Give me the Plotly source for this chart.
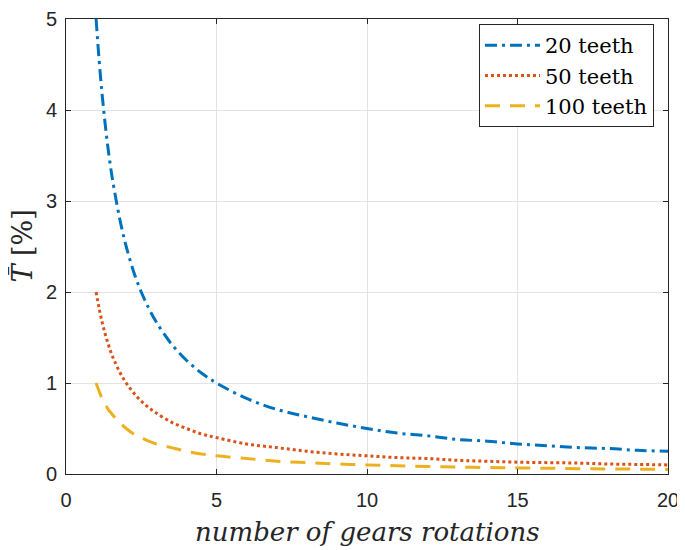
import plotly.graph_objects as go

rotations = [1, 1.1, 1.2, 1.3, 1.4, 1.5, 1.6, 1.8, 2, 2.25, 2.5, 2.75, 3, 3.5, 4, 4.5,
             5, 6, 7, 8, 9, 10, 11, 12, 13, 14, 15, 16, 17, 18, 19, 20]
teeth_20 = [5.0, 4.55, 4.17, 3.85, 3.57, 3.33, 3.13, 2.78, 2.5, 2.22, 2.0, 1.82, 1.67, 1.43, 1.25, 1.11,
            1.0, 0.83, 0.71, 0.63, 0.56, 0.5, 0.45, 0.42, 0.38, 0.36, 0.33, 0.31, 0.29, 0.28, 0.26, 0.25]
teeth_50 = [2.0, 1.82, 1.67, 1.54, 1.43, 1.33, 1.25, 1.11, 1.0, 0.89, 0.8, 0.73, 0.67, 0.57, 0.5, 0.44,
            0.4, 0.33, 0.29, 0.25, 0.22, 0.2, 0.18, 0.17, 0.15, 0.14, 0.13, 0.125, 0.12, 0.11, 0.105, 0.1]
teeth_100 = [1.0, 0.91, 0.83, 0.77, 0.71, 0.67, 0.63, 0.56, 0.5, 0.44, 0.4, 0.36, 0.33, 0.29, 0.25, 0.22,
             0.2, 0.17, 0.14, 0.125, 0.11, 0.1, 0.09, 0.083, 0.077, 0.071, 0.067, 0.063, 0.059, 0.056, 0.053, 0.05]
series_names = ["20 teeth", "50 teeth", "100 teeth"]
x_ticks = [0, 5, 10, 15, 20]
y_ticks = [0, 1, 2, 3, 4, 5]
x_title = "number of gears rotations"
y_title = "<i>T\u0304</i> [%]"

fig = go.Figure()
styles = [("#0072BD", "12px,5px,3px,5px"), ("#D95319", "3px,3px"), ("#EDB120", "15px,10px")]
for name, ys, (col, dash) in zip(series_names, [teeth_20, teeth_50, teeth_100], styles):
    fig.add_trace(go.Scatter(x=rotations, y=ys, mode="lines", name=name,
                             line=dict(color=col, width=3, dash=dash, shape="spline")))

axis_common = dict(showline=True, mirror="ticks", linecolor="#262626", linewidth=1,
                   ticks="inside", ticklen=5, tickcolor="#262626", automargin=False,
                   ticklabeloverflow="allow",
                   showgrid=True, gridcolor="#e3e3e3", gridwidth=1, zeroline=False,
                   tickfont=dict(family="Liberation Sans, Arial", size=20, color="#262626"))

serif = "DejaVu Serif, Liberation Serif, serif"
fig.update_layout(
    width=685, height=550,
    margin=dict(l=58, r=25, t=11, b=84, autoexpand=False),
    plot_bgcolor="white", paper_bgcolor="white",
    xaxis=dict(range=[0, 20], tickvals=x_ticks, ticklabelstandoff=8, **axis_common),
    yaxis=dict(range=[0, 5], tickvals=y_ticks, ticklabelstandoff=4, **axis_common),
    legend=dict(x=0.686, y=0.989, xanchor="left", yanchor="top",
                bgcolor="white", bordercolor="#262626", borderwidth=1,
                font=dict(family=serif, size=21, color="#000000"),
                itemwidth=55, tracegroupgap=0),
    showlegend=True,
    annotations=[
        dict(text="<i>" + x_title + "</i>", xref="paper", yref="paper", x=0.5, y=-0.127,
             xanchor="center", yanchor="middle", showarrow=False,
             font=dict(family=serif, size=26, color="#262626")),
        dict(text=y_title, xref="paper", yref="paper", x=-0.073, y=0.50,
             xanchor="center", yanchor="middle", showarrow=False, textangle=-90,
             font=dict(family=serif, size=27, color="#262626")),
    ],
)

fig.write_html("out.html")
